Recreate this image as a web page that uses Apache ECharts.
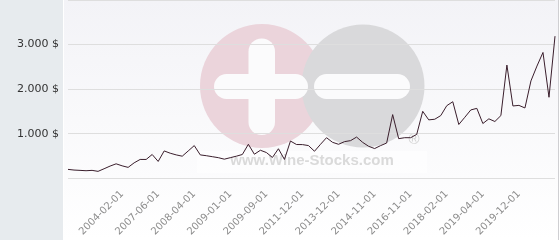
<!DOCTYPE html>
<html>
<head>
<meta charset="utf-8">
<script src="https://cdn.jsdelivr.net/npm/echarts@6/dist/echarts.min.js"></script>
<style>
html,body{margin:0;padding:0;background:#fff;}
#chart{width:560px;height:240px;}
</style>
</head>
<body>
<div id="chart"></div>
<script>
// Tick labels shown on the category axis (every 6th observation, starting at index 9)
const tickLabels = ['2004-02-01','2007-06-01','2008-04-01','2009-01-01','2009-09-01','2011-12-01',
  '2013-12-01','2014-11-01','2016-11-01','2018-02-01','2019-04-01','2019-12-01'];
const firstLabelIndex = 9;
const labelStep = 6;

const prices = [
  200, 185, 178, 170, 178, 156, 214, 274, 325, 280,
  245, 347, 423, 423, 534, 378, 614, 563, 525, 496,
  614, 734, 525, 507, 485, 463, 429, 463, 496, 534,
  763, 540, 629, 578, 467, 663, 423, 836, 758, 756,
  734, 607, 763, 911, 807, 763, 823, 845, 925, 807,
  718, 667, 734, 791, 1429, 889, 911, 911, 985, 1503,
  1311, 1325, 1407, 1629, 1718, 1207, 1369, 1534, 1569, 1229,
  1334, 1274, 1407, 2540, 1623, 1636, 1578, 2185, 2518, 2823,
  1818, 3189
];

const yTicks = [0, 1000, 2000, 3000, 4000];

// Category axis: dates known only where labelled
const categories = prices.map((v, i) => {
  const k = i - firstLabelIndex;
  return (k >= 0 && k % labelStep === 0 && tickLabels[k / labelStep]) ? tickLabels[k / labelStep] : '';
});

function fmtMoney(v) {
  return String(v).replace(/\B(?=(\d{3})+(?!\d))/g, '.') + ' $';
}

const chart = echarts.init(document.getElementById('chart'), null, {renderer: 'canvas'});
chart.setOption({
  animation: false,
  graphic: [
    {type: 'rect', z: -10, silent: true, shape: {x: 0, y: 0, width: 63, height: 240}, style: {fill: '#e7ebee'}},
    {type: 'rect', z: -10, silent: true, shape: {x: 64, y: 0, width: 495, height: 240},
      style: {fill: new echarts.graphic.LinearGradient(0, 0, 0, 1, [
        {offset: 0, color: '#f3f3f7'}, {offset: 1, color: '#ffffff'}])}},
    {type: 'line', z: -10, silent: true, shape: {x1: 558.5, y1: 0, x2: 558.5, y2: 240}, style: {stroke: '#cfcfd2', lineWidth: 1}},
    {type: 'circle', z: -10, silent: true, shape: {cx: 262, cy: 86, r: 62}, style: {fill: '#ebd4db'}},
    {type: 'circle', z: -10, silent: true, shape: {cx: 363, cy: 86, r: 61.5}, style: {fill: '#d9d9db'}},
    {type: 'rect', z: -10, silent: true, shape: {x: 214, y: 74, width: 94, height: 25, r: 12.5}, style: {fill: '#fbfbfc'}},
    {type: 'rect', z: -10, silent: true, shape: {x: 248.5, y: 38.5, width: 26.5, height: 96.5, r: 13}, style: {fill: '#fbfbfc'}},
    {type: 'rect', z: -10, silent: true, shape: {x: 314, y: 74, width: 96, height: 25, r: 12.5}, style: {fill: '#fbfbfc'}},
    {type: 'rect', z: -10, silent: true, shape: {x: 197, y: 151, width: 230, height: 22}, style: {fill: 'rgba(255,255,255,0.55)'}},
    {type: 'text', z: -10, silent: true, x: 312, y: 161,
      style: {text: 'www.Wine-Stocks.com', font: 'bold 15px "Liberation Sans", Arial, sans-serif', fill: '#dadada', align: 'center', verticalAlign: 'middle'}},
    {type: 'text', z: -10, silent: true, x: 414, y: 140,
      style: {text: '\u00AE', font: '15px "Liberation Sans", Arial, sans-serif', fill: '#d2d2d2', align: 'center', verticalAlign: 'middle'}}
  ],
  grid: {left: 68, right: 5, top: -1.7, bottom: 61.7, containLabel: false},
  xAxis: {
    type: 'category',
    data: categories,
    boundaryGap: false,
    axisLine: {show: false},
    axisTick: {show: false},
    splitLine: {show: false},
    axisLabel: {
      interval: 0,
      rotate: 45,
      margin: 14,
      color: '#8c8c8c',
      fontSize: 10,
      fontFamily: '"DejaVu Sans", Verdana, sans-serif'
    }
  },
  yAxis: {
    type: 'value',
    min: yTicks[0],
    max: yTicks[yTicks.length - 1],
    interval: 1000,
    axisLine: {show: false},
    axisTick: {show: false},
    splitLine: {lineStyle: {color: '#dedede', width: 1}},
    axisLabel: {
      margin: 9,
      color: '#333',
      fontSize: 11,
      fontFamily: '"DejaVu Sans", Verdana, sans-serif',
      formatter: v => (v > yTicks[yTicks.length - 2] ? '' : (v === 0 ? '' : fmtMoney(v)))
    }
  },
  series: [{
    type: 'line',
    data: prices,
    showSymbol: false,
    symbol: 'none',
    lineStyle: {color: '#3a1e2c', width: 1}
  }]
});
</script>
</body>
</html>
